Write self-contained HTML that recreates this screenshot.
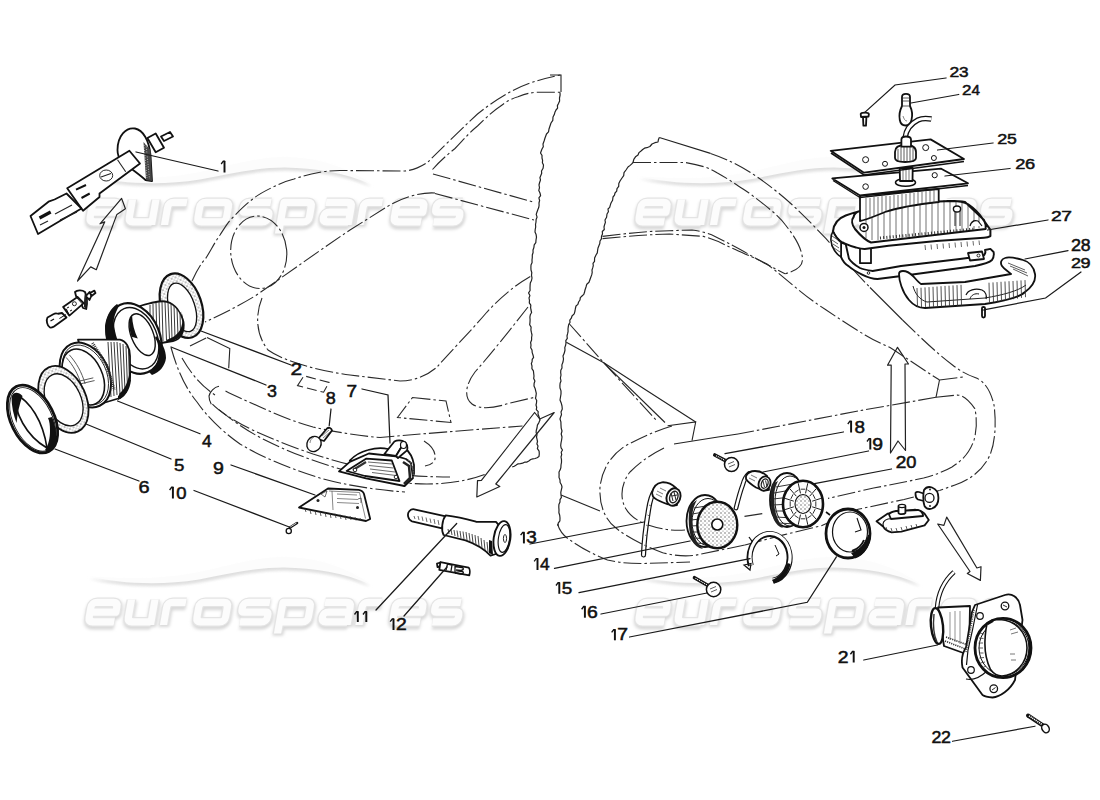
<!DOCTYPE html>
<html><head><meta charset="utf-8"><style>
html,body{margin:0;padding:0;background:#fff;width:1100px;height:800px;overflow:hidden}
svg{display:block}
.lb{font-family:"Liberation Sans",sans-serif;font-weight:normal;fill:#111;stroke:#111;stroke-width:0.5}
.ld{fill:none;stroke:#1a1a1a;stroke-width:1.25;stroke-linecap:round}
.dd{fill:none;stroke:#2a2a2a;stroke-width:1.1;stroke-dasharray:18 3 2.5 3}
.dl{fill:none;stroke:#2a2a2a;stroke-width:1.1;stroke-dasharray:10 4}
.sl{fill:none;stroke:#222;stroke-width:1.1}
.tn{fill:none;stroke:#222;stroke-width:1.2;stroke-linejoin:round}
.p{fill:#fff;stroke:#111;stroke-width:1.8;stroke-linejoin:round}
.pn{fill:none;stroke:#111;stroke-width:1.8;stroke-linejoin:round;stroke-linecap:round}
.k{fill:#111;stroke:none}
.th{fill:none;stroke:#111;stroke-width:0.9}
</style></head><body>
<svg width="1100" height="800" viewBox="0 0 1100 800">
<defs>
<filter id="wmf" x="-5%" y="-30%" width="110%" height="170%">
<feGaussianBlur in="SourceAlpha" stdDeviation="1.8" result="b"/>
<feOffset in="b" dx="1" dy="3" result="o"/>
<feFlood flood-color="#000" flood-opacity="0.24"/>
<feComposite in2="o" operator="in" result="s"/>
<feMerge><feMergeNode in="s"/><feMergeNode in="SourceGraphic"/></feMerge>
</filter>
<pattern id="stip" width="4" height="4" patternUnits="userSpaceOnUse"><rect width="4" height="4" fill="#fff"/><circle cx="1" cy="1" r="0.7" fill="#555"/><circle cx="3" cy="3" r="0.6" fill="#777"/></pattern>
</defs>
<defs>
<filter id="wmsh" x="-10%" y="-40%" width="120%" height="200%"><feGaussianBlur stdDeviation="1.6"/></filter>
<g id="wmword" fill="none" stroke-linejoin="round">
<path d="M3.0,-12.75 L28.9,-12.75 L28.9,-17.5 Q28.9,-22.5 23.9,-22.5 L8.0,-22.5 Q3.0,-22.5 3.0,-17.5 L3.0,-8.0 Q3.0,-3.0 8.0,-3.0 L28.9,-3.0" transform="translate(85.8,0)"/>
<path d="M3.0,-25.5 L3.0,-8.0 Q3.0,-3.0 8.0,-3.0 L26.5,-3.0 M26.5,-25.5 L26.5,0" transform="translate(125,0)"/>
<path d="M3.0,0 L3.0,-17.5 Q3.0,-22.5 8.0,-22.5 L21.5,-22.5" transform="translate(161.5,0)"/>
<path d="M8.0,-22.5 L26.6,-22.5 Q31.6,-22.5 31.6,-17.5 L31.6,-8.0 Q31.6,-3.0 26.6,-3.0 L8.0,-3.0 Q3.0,-3.0 3.0,-8.0 L3.0,-17.5 Q3.0,-22.5 8.0,-22.5 Z" transform="translate(193.6,0)"/>
<path d="M29.700000000000003,-22.5 L8.0,-22.5 Q3.0,-22.5 3.0,-17.5 L3.0,-15.75 Q3.0,-12.75 6.0,-12.75 L26.700000000000003,-12.75 Q29.700000000000003,-12.75 29.700000000000003,-9.75 L29.700000000000003,-8.0 Q29.700000000000003,-3.0 24.700000000000003,-3.0 L3.0,-3.0" transform="translate(237.3,0)"/>
<path d="M3.0,8.5 L3.0,-22.5 L26.0,-22.5 Q31.0,-22.5 31.0,-17.5 L31.0,-8.0 Q31.0,-3.0 26.0,-3.0 L3.0,-3.0" transform="translate(277,0)"/>
<path d="M3.0,-22.5 L24.0,-22.5 Q29.0,-22.5 29.0,-17.5 L29.0,0 M29.0,-12.75 L8.0,-12.75 Q3.0,-12.75 3.0,-7.75 L3.0,-8.0 Q3.0,-3.0 8.0,-3.0 L29.0,-3.0" transform="translate(319,0)"/>
<path d="M3.0,0 L3.0,-17.5 Q3.0,-22.5 8.0,-22.5 L21.5,-22.5" transform="translate(357,0)"/>
<path d="M3.0,-12.75 L30.5,-12.75 L30.5,-17.5 Q30.5,-22.5 25.5,-22.5 L8.0,-22.5 Q3.0,-22.5 3.0,-17.5 L3.0,-8.0 Q3.0,-3.0 8.0,-3.0 L30.5,-3.0" transform="translate(390,0)"/>
<path d="M28.0,-22.5 L8.0,-22.5 Q3.0,-22.5 3.0,-17.5 L3.0,-15.75 Q3.0,-12.75 6.0,-12.75 L25.0,-12.75 Q28.0,-12.75 28.0,-9.75 L28.0,-8.0 Q28.0,-3.0 23.0,-3.0 L3.0,-3.0" transform="translate(430,0)"/>
</g>
<g id="wmk">
<path d="M89,176 C120,179 160,180 200,172 C230,166 255,157 285,157 C315,157 345,166 371,184 C345,173 315,168 285,167.5 C255,167.5 230,174 200,179.5 C160,186 120,183.5 89,176 Z" fill="#f7f7f7" transform="translate(1,3)" filter="url(#wmsh)" opacity="0.9"/>
<path d="M89,176 C120,179 160,180 200,172 C230,166 255,157 285,157 C315,157 345,166 371,184 C345,173 315,168 285,167.5 C255,167.5 230,174 200,179.5 C160,186 120,183.5 89,176 Z" fill="#dedede" transform="translate(0.5,2.8)" filter="url(#wmsh)"/>
<path d="M89,176 C120,179 160,180 200,172 C230,166 255,157 285,157 C315,157 345,166 371,184 C345,173 315,168 285,167.5 C255,167.5 230,174 200,179.5 C160,186 120,183.5 89,176 Z" fill="#fcfcfc"/>
<g transform="translate(0,224.9) skewX(-10)">
<use href="#wmword" stroke="#d8d8d8" stroke-width="10.8" filter="url(#wmsh)" transform="translate(0.8,2.2)"/>
<use href="#wmword" stroke="#e4e4e4" stroke-width="9.8" fill="#ebebeb"/>
<use href="#wmword" stroke="#fcfcfc" stroke-width="7.2"/>
</g>
</g>
</defs>
<use href="#wmk"/>
<use href="#wmk" x="549" y="0"/>
<use href="#wmk" x="-1" y="400"/>
<use href="#wmk" x="549" y="400"/>

<!-- left car body -->
<path class="dd" d="M192,281 C197,270 202,262 206,258 C211,250 215,242 220,235 C224,229 228,222 232.5,217.75 C240,210 246,204 253.5,198.5 C259,194 265,191 271,188 C279,184 286,181 294,179 C303,176 311,174 320,172.25 C327,171 333,170.5 340,170.5 L405,171 C415,170 422,166 428,162 C440,150 455,135 477.5,114 C490,104 500,97.5 510,92 C525,84 540,79 560.7,75"/>
<path class="sl" d="M550,75 L561,75 L561,92"/>
<path class="dd" d="M432.5,169.5 C440,161 447,155 455,148.5 C465,138 470,132 477.5,126 C487,117 493,111 500,106.5 C507,101 512,98.5 518,96.75 C525,94 530,92.5 537.5,92.25 L560,92.25"/>
<path class="dd" d="M433,174 L535,202.5"/>
<path class="dd" d="M435,193.5 L534,220"/>
<path class="dd" d="M435,193 C420,192 400,198 385,208 L350,230 C320,250 290,272 255,296 C235,308 220,315 205,322"/>
<ellipse class="dd" cx="258.75" cy="252.3" rx="28" ry="36.3" transform="rotate(-5 258.75 252.3)"/>
<path class="dd" d="M262,298 C255,315 256,335 268,350 C285,362 320,371 350,375 L400,381 C415,381 428,375 437,367 C450,352 470,332 487,312 C500,298 515,285 531,276"/>
<path class="dd" d="M528,307 C510,330 490,355 475,372 C465,385 464,398 472,404 C480,410 495,408 510,403 L536,397"/>
<path class="dd" d="M412.5,397.5 L446,401 L451,422.5 L397.5,417.5 Z"/>
<path class="dl" d="M297.5,385.6 L304,375.8 L329,382.4 L323.6,392.2 Z"/>
<!-- side marker quad near headlamp -->
<path class="dd" d="M190,346 L207,337.6"/>
<path class="sl" d="M207,337.6 L229.8,348.5 L228.7,368.2"/>
<!-- bumper lines -->
<path class="sl" d="M219,386.3 C214,387 210,392 209,396 C209,399 210,402 211.3,404.2"/>
<path class="dd" d="M225.5,391 C235,396 245,400 258,406 C275,414 295,422 313,427 C335,432 360,436 380,437.5 C420,434 470,430 522.5,426"/>
<path class="dd" d="M212.4,404.2 C220,412 235,422 258,432.5 C275,440 295,448 313,454 C335,461 360,468 390,473 C410,476 430,477 450,477"/>
<path class="dd" d="M219,409.6 C232,420 245,430 265,440 C285,450 305,458 330,466 C350,472 370,477 395,482 C430,486 460,484 486,474"/>
<path class="dd" d="M171,347.5 C176,365 183,385 197,402 C206,415 220,430 240,444 C260,456 285,467 320,478 C345,485 375,490 405,492"/>
<path class="dd" d="M182,358 C190,372 200,385 215,395"/>
<!-- lower arc near part 7 -->
<path class="dd" d="M424,441 C432,446 436,452 435,459 C434,463 430,465 425,466"/>
<!-- left body torn edge -->
<path class="tn" d="M560.0,92.2 L560.1,95.2 L559.5,98.0 L559.6,100.9 L558.5,103.5 L557.4,105.6 L557.6,108.1 L556.0,110.0 L554.9,112.3 L554.2,114.8 L553.0,117.0 L552.8,120.3 L551.0,123.0 L550.0,126.0 L549.0,129.0 L548.5,131.9 L546.5,134.0 L545.0,138.0 L544.1,141.0 L543.0,144.0 L543.3,146.7 L542.0,149.0 L540.5,153.0 L542.0,155.3 L542.0,158.0 L542.6,160.3 L542.4,162.8 L543.5,165.0 L543.1,168.2 L541.5,171.0 L541.7,173.3 L540.8,175.5 L539.9,177.7 L540.5,180.0 L539.6,182.5 L539.0,185.0 L539.5,187.6 L538.8,190.4 L540.0,193.0 L540.6,195.6 L538.9,197.9 L539.6,200.5 L539.0,203.0 L539.1,205.4 L538.7,207.6 L537.8,209.8 L537.0,212.0 L536.2,214.4 L537.1,217.1 L536.1,219.5 L536.0,222.0 L535.5,224.5 L535.7,227.0 L535.2,229.5 L535.0,232.0 L536.1,234.6 L536.5,237.2 L536.0,240.0 L535.8,242.7 L534.2,244.9 L533.9,247.5 L533.0,250.0 L533.1,252.5 L532.3,255.0 L532.3,257.5 L532.0,260.0 L532.1,262.5 L531.0,264.9 L530.9,267.5 L531.0,270.0 L531.8,272.6 L531.5,275.3 L532.0,278.0 L531.5,280.5 L530.3,282.9 L530.1,285.4 L530.0,288.0 L530.1,290.5 L528.6,292.9 L529.9,295.6 L529.0,298.0 L529.5,300.4 L529.3,302.9 L530.8,305.1 L530.6,307.6 L531.0,310.0 L531.6,312.5 L530.3,314.8 L529.9,317.2 L530.1,319.6 L530.0,322.0 L529.7,324.7 L531.1,327.1 L530.9,329.9 L531.4,332.4 L532.0,335.0 L531.6,337.5 L531.6,340.0 L530.6,342.4 L531.0,345.0 L530.7,347.7 L532.0,350.0 L532.2,352.6 L533.0,355.0 L533.6,357.3 L532.2,359.4 L532.1,361.6 L531.3,363.7 L532.0,366.0 L531.9,368.6 L533.4,370.9 L533.7,373.5 L534.0,376.0 L533.7,378.5 L534.9,381.0 L534.1,383.5 L534.0,386.0 L535.1,388.4 L535.7,390.9 L536.3,393.3 L536.0,396.0 L535.5,398.2 L536.7,400.5 L536.5,402.8 L536.0,405.0 L536.7,407.2 L536.3,409.6 L538.2,411.6 L538.0,414.0 L539.1,417.0 L540.0,420.0 L538.9,422.6 L537.4,425.1 L537.0,428.0 L536.3,430.2 L536.1,432.5 L537.0,434.8 L536.5,437.0 L537.0,439.2 L537.5,441.5 L536.9,443.9 L538.0,446.0 L537.4,448.7 L539.1,451.1 L539.3,453.7 L539.0,456.4 L537.1,457.7 L535.1,458.5 L532.8,458.9 L530.7,459.5 L528.8,460.9 L527.0,462.1 L524.6,462.2 L522.6,463.1 L520.4,463.6 L518.1,463.8 L516.2,465.1 L514.3,466.2 L512.2,467.0"/>
<!-- arrow down-left -->
<path class="tn" d="M534.6,412.5 L539.8,419 L554.2,412.5 L495.8,484 L499.8,486.5 L476.8,497 L477.5,480.7 L481.4,480.3 Z"/>
<!-- right car body -->
<path class="tn" d="M659.3,137.5 L658.4,139.7 L658.0,142.0 L654.9,142.7 L652.0,144.0 L649.9,146.5 L646.8,147.7 L644.5,148.2 L642.7,149.5 L641.0,151.0 L639.0,152.6 L638.0,155.0 L635.5,156.8 L633.8,159.4 L633.0,162.5 L631.5,164.1 L629.8,165.6 L628.0,167.0 L626.0,170.0 L624.0,172.7 L623.7,175.6 L622.0,178.0 L620.0,181.0 L618.8,183.4 L618.7,186.4 L617.0,188.6 L616.7,191.1 L615.0,193.0 L614.5,195.2 L613.0,197.0 L612.6,200.2 L611.0,203.0 L610.3,205.1 L609.7,207.4 L608.0,209.0 L608.4,211.7 L607.0,214.0 L606.6,217.2 L605.0,220.0 L605.4,222.4 L604.6,224.7 L604.0,227.0 L604.3,229.5 L602.3,231.5 L602.5,234.0 L601.5,236.3 L601.4,238.9 L600.0,241.0 L599.8,243.5 L598.9,245.7 L598.0,248.0 L597.6,250.4 L597.3,252.9 L596.0,255.0 L594.6,258.1 L594.5,261.4 L593.0,263.3 L593.3,265.7 L592.7,267.9 L592.0,270.0 L592.2,272.5 L591.7,274.9 L590.8,277.2 L590.0,279.5 L589.0,282.2 L586.8,284.2 L586.0,287.0 L585.0,290.0 L584.5,292.3 L583.8,294.4 L582.0,296.0 L580.3,297.6 L580.0,300.0 L578.6,302.0 L577.9,304.4 L576.0,306.0 L575.4,308.5 L575.0,311.0 L574.2,313.9 L572.0,316.0 L571.3,318.2 L569.8,320.1 L570.0,322.5 L568.7,324.5 L568.3,326.7 L568.0,329.0 L568.1,331.4 L567.6,333.7 L567.0,336.0 L567.3,338.4 L565.8,340.6 L566.0,343.0 L565.6,345.3 L564.8,347.6 L565.0,350.0 L564.3,353.1 L563.0,356.0 L563.5,359.0 L563.0,362.0 L561.9,364.9 L562.0,368.0 L560.8,370.2 L560.7,372.6 L561.0,375.0 L560.4,378.0 L561.0,381.0 L560.1,383.3 L559.9,385.6 L560.0,388.0 L561.0,390.9 L561.0,394.0 L560.5,397.0 L560.0,400.0 L561.2,402.9 L562.0,406.0 L562.3,409.1 L561.0,412.0 L561.5,414.5 L560.7,416.7 L560.0,419.0 L560.9,421.9 L561.0,425.0 L561.2,428.1 L562.0,431.0 L561.2,434.0 L562.0,437.0 L561.6,440.0 L561.0,443.0 L560.7,445.5 L561.1,447.9 L562.5,450.0 L561.2,452.2 L561.7,454.7 L561.0,457.0 L561.5,459.7 L561.5,462.3 L561.0,465.0 L560.9,467.5 L560.2,469.8 L559.0,472.0 L559.1,474.7 L559.0,477.4 L560.0,480.0 L560.1,482.5 L561.4,484.7 L562.0,487.0 L561.4,489.6 L560.8,492.3 L561.0,495.0 L561.4,497.4 L560.0,499.6 L560.0,502.0 L558.9,504.6 L558.8,507.3 L559.0,510.0 L558.9,512.7 L559.7,515.3 L560.0,518.0 L559.9,520.8 L558.2,523.2 L558.0,526.0"/>
<path class="sl" d="M561,495 L600,511"/>
<path class="sl" d="M659.3,137.5 L710.5,153.4"/>
<path class="dd" d="M710.5,153.4 C730,160 750,170 776,191 C795,206 810,222 826,238.6 C840,255 855,272 870,287.5"/>
<path class="sl" d="M870,287.5 L902.5,320"/>
<path class="dd" d="M902.5,320 C915,332 935,352 952.5,365 C960,371 968,375 975,377.5 C985,381 991,392 994,405 C996,420 996,440 990,455 C983,470 970,480 955,485 L939.5,490.5"/>
<path class="dd" d="M633,162.5 L685.5,162.5 C700,165 710,168 717,172.7 C730,180 740,187 749,193 C765,205 778,215 785.5,225 C795,237 801,247 802.5,258 C803,266 798,270 785,273.75"/>
<path class="dd" d="M602.5,236.4 C630,233 650,231 669.5,230.7 L692,230 C700,231 708,233 715,236.4 C728,243 740,249 749,254.5 C760,261 772,267 785,273.75"/>
<path class="dd" d="M602.5,238.6 C630,236 650,234.5 669.5,234 L703.6,236.4 C712,239 720,242 726.4,245.5 C740,252 755,258 767,264 C785,278 800,292 815,302.5 C832,314 850,326 865,335 C875,341 882,344 890,347.5 C905,357 922,369 939.5,380"/>
<path class="dd" d="M939.5,380 L964.5,376.8"/>
<path class="sl" d="M939.5,380 L936,397.3"/>
<path class="dd" d="M936,397.3 L957.7,395 C965,396 970,402 974.8,408.6 C977,418 977,430 974,440 C970,452 963,460 952,467 C945,471 935,475 923.6,478 C905,482 890,485 873.6,488 L828,498.4"/>
<path class="dd" d="M936,397.3 L858,411"/>
<path class="dd" d="M858,411 L738,434"/>
<path class="sl" d="M738,434 L718,437 L674,444"/>
<!-- block near torn edge -->
<path class="sl" d="M667.6,425.7 L695.7,422 L692,440.7"/>
<path class="dd" d="M569,323.5 L603.8,362.8 L633.8,395.7 L657.5,421.5"/>
<path class="sl" d="M566.3,342.2 L603.8,362.8 L643.2,388.2 L695.7,422"/>
<path class="sl" d="M603.8,362.8 L665,422.5"/>
<!-- tail light arcs -->
<path class="dd" d="M939.5,490.5 L904,499.5 L858,509.3 L822,525.6 L784.5,534.6 L745,545"/>
<path class="dd" d="M557.5,524 C560,532 565,537 570,540 C580,547 592,554 607.5,560 C620,563 630,563.5 642,563.5 L690,562"/>
<path class="dd" d="M672,426 C655,431 640,438 625,446 C610,456 602,470 600,487 C599,505 605,520 616,528 C628,538 645,546 662.7,552.7 C675,556 688,557 699,554.5 L745,545"/>
<path class="dd" d="M664,448 C650,455 640,462 630,472 C622,482 620,495 624,505 C628,515 637,521 648,525 C660,529 672,531 685,530"/>
<path class="dd" d="M744.5,516.4 L762.7,513.6"/>
<!-- part 1: H1 bulb with connector -->
<path class="tn" d="M121.6,198.4 L125.4,208.8 L116.9,214.4 L96.3,269.7 L90.7,266.9 L77.5,281 L104.7,221.9 L100,223.8 Z" fill="#fff"/>
<g>
<path class="p" d="M147.4,138 L155.7,133.5 L164,147.7 L155.7,152.2 Z"/>
<path class="p" d="M161,136.5 L170,132 L173,136.5 L164,141 Z" stroke-width="1.4"/>
<path class="p" d="M133,170 C124,165 117.5,160 117.5,150 C117.5,136 126,127 135,128.5 C143,130 149,140 150.5,155 L152,181 L145.5,180 C141,176 137,173 133,170 Z"/>
<path d="M143.5,142 L150.5,150 L152,181 L146,180 Z" fill="#444"/>
<path d="M144,145 L147,178 M146,144 L149.5,179" stroke="#fff" stroke-width="0.6" stroke-dasharray="1 1.5"/>
<path class="p" d="M67.2,188.2 L129.4,150.7 L140,163.5 L99.5,193.5 L99.5,197 L83,210.7 Z"/>
<path class="sl" d="M117.5,159.7 L125.7,171.7"/>
<ellipse class="th" cx="106.2" cy="175.5" rx="6.5" ry="5.5" stroke-width="1.2" fill="#fff"/>
<path class="sl" d="M101,177 L111,173.5"/>
<path d="M76,189.7 L86,185 M81.5,198 L89.7,193.5" stroke="#111" stroke-width="2"/>
<path class="p" d="M30.5,216 L48.5,201.7 L54.5,199.5 L66.5,193.5 L81.5,208.5 L62,219.7 L38,234 Z" stroke-width="1.6"/>
<path class="sl" d="M55,214 L72,205 M60,220 L77,212"/>
<path d="M39.5,218 L50.7,212" stroke="#111" stroke-width="3.2"/>
<path class="sl" d="M40,225 L48,221"/>
</g>
<!-- small H1 bulb -->
<path class="p" d="M47.5,317.5 C46,320 47,326 50,327.5 C51.5,328 53,327 54.4,326.3 L66.5,317.5 L62,313 L58.1,313.75 C56,313 54.5,313.5 53.75,314 Z" stroke-width="1.3"/>
<path d="M50.5,321 L54,319" stroke="#111" stroke-width="1.3"/>
<path d="M59.4,318.5 L66,314.5" stroke="#111" stroke-width="1"/>
<path class="p" d="M75,292 C77,290 82,289.5 85,292 C87,296 87.5,303 86.25,309 L83,308 C81,303 79,299 76,296 Z" stroke-width="1.3"/>
<path d="M85,293 C86.5,298 87,304 86.25,309 L84,307 C84,302 84,297 85,293 Z" fill="#222"/>
<path class="p" d="M63.1,306.9 L77.5,296.9 L83.75,303.1 L69.4,315.6 Z" stroke-width="1.3"/>
<path d="M66.25,308.75 L69.4,315.6 M76.5,297.5 L82.5,304" stroke="#111" stroke-width="1"/>
<path d="M67,308 L69,307 M70,311 L72,310" stroke="#111" stroke-width="1"/>
<circle cx="74.4" cy="303.75" r="2" fill="none" stroke="#111" stroke-width="0.9"/>
<path class="p" d="M86,296 L89.5,292 L92,294.5 L89.5,300 Z" stroke-width="1.1"/>
<path class="p" d="M90,293 L94.4,290.6 L95.5,293 L91.5,296 Z" stroke-width="1.1"/>
<!-- part 2 gasket (top right) -->
<g transform="rotate(-19 181.5 305.7)">
<ellipse cx="181.5" cy="305.7" rx="20" ry="33.4" fill="url(#stip)" stroke="#111" stroke-width="2.2"/>
<ellipse cx="181.5" cy="307.5" rx="12.7" ry="25.3" fill="#fff" stroke="#111" stroke-width="1.3"/>
</g>
<!-- part 3 bowl: cone -->
<path class="p" d="M140,306 C150,303 160,300 167,301.8 C175,304 181,312 183.5,322 C185,332 180,340 173,341 L161,343 Z"/>
<path d="M150,305 L150,338 M153,304 L153.5,339 M156,303 L157,340 M159,302 L160,341 M162,302 L163,341 M165,302 L166.5,340 M168,302.5 L169.5,340 M171,303 L172,339 M174,305 L175,338 M177,308 L178,336 M180,312 L180.5,333" stroke="#222" stroke-width="0.9"/><path d="M166,340 C172,338 178,335 181,328 C183,322 183,316 181,311 C184,318 185,328 182,334 C179,339 174,341 167,342 Z" fill="#111"/>
<g transform="rotate(-22 134 338.5)">
<ellipse cx="134" cy="338.5" rx="26" ry="36.5" fill="#fff" stroke="#111" stroke-width="2.2"/>
<ellipse cx="136" cy="339" rx="21" ry="32" fill="none" stroke="#111" stroke-width="1.4"/>
<path d="M113,338 C112,320 118,308 126,304 C121,314 118,326 118,338 Z" fill="#111"/>
<ellipse cx="143" cy="338" rx="11" ry="22" fill="#fff" stroke="#111" stroke-width="1.4"/>
<path d="M132.5,336 C133,325 137,318 141,316 C138,324 137,332 137.5,340 Z" fill="#111"/>
</g>
<path d="M105,326 C106,317 110,309 117,304 L119,306 C115,313 112.5,321 112.5,331 C112.5,337 113.5,342 115,347 L110.5,346 C107,340 105,334 105,326 Z" fill="#111"/>
<path d="M156,336 C162,342 166,350 166,358 C165,366 160,372 152,375 L149,372 C155,368 158,362 158.5,355 C159,348 158,342 155,338 Z" fill="#111"/>
<!-- part 4 sealed beam: cone -->
<path class="p" d="M78,339.7 L120,339.7 C126,341 130,348 130,356 L130,378 C128,390 124,396 120,398 L100,404 Z"/>
<path d="M108,342 L111,397 M111,342 L114,396 M114,342 L117,395 M117,342 L120,394 M120,343 L122.5,393 M123,344 L125,391 M126,346 L127.5,388 M128.5,350 L129.5,383" stroke="#222" stroke-width="0.9"/><path d="M119,394 C124,390 128,383 129.5,372 L131,372 C131,384 127,393 120,398 Z" fill="#111"/>
<path d="M118,396 C124,392 128,385 129,378 L131,380 C130,390 125,397 118,400 Z" fill="#111"/>
<g transform="rotate(-25 83.3 377)">
<ellipse cx="86" cy="376" rx="23.5" ry="34" fill="#fff" stroke="#111" stroke-width="2"/>
<ellipse cx="86" cy="376" rx="21" ry="31.5" fill="none" stroke="#111" stroke-width="0.8"/>
<path d="M106,350 L109.5,376 L106,402" stroke="#333" stroke-width="3" fill="none" stroke-dasharray="1 1"/>
<ellipse cx="83.3" cy="377" rx="19" ry="29.5" fill="#fff" stroke="#111" stroke-width="1.6"/>
<path d="M76,352 C79,362 80,372 78,384 M80,351 C83,361 84,372 82,384 M73,378 L92,382 M73,381 L92,385" stroke="#444" stroke-width="0.8" fill="none"/>
</g>
<!-- part 5 gasket -->
<g transform="rotate(-24.6 63.4 399.4)">
<ellipse cx="63.4" cy="399.4" rx="22.5" ry="35.2" fill="url(#stip)" stroke="#111" stroke-width="1.8"/>
<ellipse cx="63.4" cy="399.9" rx="17.3" ry="27.5" fill="#fff" stroke="#111" stroke-width="1.3"/>
</g>
<!-- part 6 trim ring -->
<g transform="rotate(-26.6 32.5 419)">
<ellipse cx="32.5" cy="419" rx="21.5" ry="36.3" fill="#fff" stroke="#111" stroke-width="2.8"/>
<ellipse cx="32.5" cy="419.5" rx="19.3" ry="34.2" fill="none" stroke="#111" stroke-width="0.9"/>
</g>
<path d="M52,417 C55.5,425 57,434 56,442 C55,447 52,450 48,452 L45,450 C48.5,445 50,438 50,431 C50,425 49.5,421 48,418 Z" fill="#111"/>
<path d="M11.5,397 C13,392 18,391 22.5,396 C19.5,404 17.5,413 16.5,423 C13.5,415 11.5,406 11.5,397 Z" fill="#111"/>
<path d="M15,394 C14,412 26,436 47,448 M15,394 C30,401 43,421 47,448" stroke="#111" stroke-width="1.6" fill="none"/>
<!-- part 8 bulb -->
<path class="p" d="M318,439 L327,428.5 C329,427 331.5,428 332,430.5 L324,441 Z" stroke-width="1.3"/>
<path d="M322,436 L329,430 M323,438 L330,432" stroke="#333" stroke-width="0.6"/>
<ellipse cx="314" cy="444" rx="7" ry="7.8" transform="rotate(30 314 444)" fill="#fff" stroke="#111" stroke-width="1.4"/>
<path d="M310,443 C310,440 312,438 314,437" stroke="#555" stroke-width="0.7" fill="none"/>
<!-- part 7 lamp housing -->
<path class="p" d="M349.8,460.5 C355,455 360,452 368,450 C375,448 382,447.5 388,449 L404,447 C410,452 413,458 414,465 L414,474 L404.5,486 Z" stroke-width="1.4"/>
<path class="p" d="M339,471.4 L349.8,461.8 L368.9,453.5 L398,456.7 L406,459 L411,463 L413,478 L404.5,486 L366,478.4 Z" stroke-width="3.2"/>
<path class="p" d="M346.6,471 L366.4,458.6 L391.8,460.5 L399.5,481 L365,476 Z" stroke-width="1.3"/>
<path d="M368,462 L392,464 M369,465.5 L393.5,468 M370,469 L395,472 M372,472.5 L396,475.5" stroke="#444" stroke-width="0.8"/>
<path d="M353,470 L366,462" stroke="#333" stroke-width="2.2"/>
<circle cx="355" cy="470" r="1.8" fill="#fff" stroke="#111" stroke-width="0.9"/>
<circle cx="396" cy="477" r="1.8" fill="#fff" stroke="#111" stroke-width="0.9"/>
<path d="M403,462 L409,466 L410,478 L404,484" stroke="#222" stroke-width="2.5" fill="none"/>
<path d="M408,460 C412,464 414,470 413,478" stroke="#555" stroke-width="1.5" fill="none" stroke-dasharray="1.5 1"/>
<path class="p" d="M384.2,454.2 L394.4,441.5 C397,440 402,440 404.5,442 L396,456 Z" stroke-width="1.6"/>
<path class="p" d="M404.5,442 C407,443 408,447 407,450.4 L398,458 L396,456 Z" stroke-width="1.4"/>
<ellipse cx="403.5" cy="445" rx="3" ry="3.5" fill="#fff" stroke="#111" stroke-width="1.2"/>
<!-- part 9 lens -->
<path class="p" d="M299,507.5 L328,488.5 L358.7,489.8 C362,490.5 363.5,492 364,494 L370.2,519 L366,521 Z" stroke-width="1.9"/>
<path d="M329,491 L359.5,492.5 L365.5,518.5 M332,491 L333,510 M337,494 L357,495 M337,498.5 L358,499.5 M337,502.5 L359,503.5" stroke="#555" stroke-width="0.7" fill="none"/>
<path d="M305,509 L306,512 M310,510 L311,514 M315,510.5 L316,515 M320,511.5 L321,516 M325,512 L326,517 M330,513 L331,518 M335,513.5 L336,518 M340,514.5 L341,519 M345,515.5 L346,520 M350,516 L351,520 M355,517 L356,520.5 M360,518 L361,521" stroke="#333" stroke-width="0.8"/>
<circle cx="318" cy="500.5" r="1.5" fill="#222"/>
<circle cx="357.5" cy="507.5" r="1.5" fill="#222"/>
<path d="M321,494 L327,491 L325,497 Z M358,499 L361,498 L361,503" stroke="#333" stroke-width="0.7" fill="none"/>
<!-- part 10 pin -->
<path d="M290,527.5 L297,523" stroke="#111" stroke-width="2.6" stroke-linecap="round"/>
<path d="M290.2,527 L296.5,523" stroke="#fff" stroke-width="0.8"/>
<circle cx="288.75" cy="531" r="2.6" fill="#fff" stroke="#111" stroke-width="1.3"/>
<!-- part 11 -->
<path class="p" d="M414.2,509.3 L445.8,516.4 L442,528.4 L412,521.3 C408,520 407,514 409,511.5 C410.5,509.5 412.5,509 414.2,509.3 Z" stroke-width="1.9"/>
<path d="M414,516 L415,519 M418,516 L419,520 M422,516.5 L423,521 M426,517.5 L427,522 M430,518.5 L431,523 M434,519 L435,524 M438,520 L439,525" stroke="#444" stroke-width="0.8"/>
<path class="p" d="M445.8,515.3 C460,517 470,520 476.4,521.8 L496,521.8 L503,530 L496,554 L490.5,555.6 C485,550 476,544 465.5,540.4 L443.6,535 C441,530 442,520 445.8,515.3 Z" stroke-width="1.9"/>
<path d="M448,529 L449,534 M451,529.5 L452,535 M454,530 L455,536 M457,530.5 L458,537 M460,531 L461,538 M463,531.5 L464,539 M466,532 L467,540 M469,533 L470,541 M472,534 L473,543 M475,535 L476,545 M478,536 L479,546 M481,538 L482,548 M484,540 L485,550 M487,542 L488,552" stroke="#333" stroke-width="0.9"/>
<path d="M489,540 L492,541 L493,555 L489,553 Z" fill="#111"/>
<ellipse cx="502" cy="538.5" rx="8.3" ry="17.5" transform="rotate(8 502 538.5)" fill="#fff" stroke="#111" stroke-width="1.9"/>
<ellipse cx="504" cy="538.5" rx="5.6" ry="14" transform="rotate(8 504 538.5)" fill="none" stroke="#111" stroke-width="1.1"/>
<ellipse cx="505" cy="538.5" rx="1.6" ry="4" fill="none" stroke="#111" stroke-width="0.9"/>
<!-- part 12 -->
<path class="p" d="M437,563.5 L440.5,562.5 L441,566.5 L437.5,567 Z" stroke-width="1.1"/>
<path class="p" d="M440.4,562.2 L468.7,567.6 C470,569 470,573 469.3,575.3 L439.3,569.8 Z" stroke-width="1.5"/>
<path d="M446,570 L447.5,564 L452,565 L451,571 M455,566 L455,573 M455,566.5 L462,567.5 C464,568 464,570 461,570.5 L456,570 M456,570.5 L462,571.5 C464,572 464,574 461,574 L455,573" stroke="#111" stroke-width="1.3" fill="none"/>
<!-- part 23 screw -->
<path class="p" d="M860.7,114 C861,112.5 868,112 868.9,114 L868.5,116.5 L861,117 Z" stroke-width="1.2"/>
<path class="p" d="M863,117 L866.4,117 L866,125.6 L863.4,125.6 Z" stroke-width="1.1"/>
<!-- part 24 bulb -->
<path class="p" d="M902,106 L902,97 C902,94.5 904,93.8 906,93.8 C908,93.8 910,94.5 910,97 L910,106 C912,110 912.5,116 911.5,120 C910.5,124 908,125.5 905.5,125.5 C903,125.5 900.5,124 899.8,120 C899,116 900,110 902,106 Z" stroke-width="1.4"/>
<path d="M902,106 L910,106 M903,98 L909,98 M903,101 L909,101" stroke="#333" stroke-width="0.8"/>
<path d="M903,116 C904,119 905,121 907,121" stroke="#555" stroke-width="0.7" fill="none"/>
<!-- part 27 housing (behind plates) -->
<!-- lower U frame -->
<path d="M841,242.5 L841,256.8 C843,262 845,264 848.9,266.4 C853,270 857,272 861.6,274.3 C867,277 872,279 877.5,279 L901.4,276 L975,266 C985,264 990,262 992,260 C994,257 994,254 993.6,252 L990.4,248.9 L985,250 C986,253 985,255 982.5,256 L960,259 L901,266 L872.7,271 C866,270 862,269 860,268 C855,265 851,262 848.9,258.4 L845.7,244 Z" fill="#fff" stroke="#111" stroke-width="1.9" stroke-linejoin="round"/>
<path d="M925,245 L925.5,250 M931,244.5 L931.5,249.5 M937,244 L937.5,249 M943,243.5 L943.5,248.5 M949,243 L949.5,248 M955,242.5 L955.5,247.5 M961,242 L961.5,247 M967,241.5 L967.5,246.5 M973,241 L973.5,245.5 M979,240.5 L979.5,245" stroke="#444" stroke-width="0.8"/>
<circle cx="868.5" cy="273" r="1.3" fill="none" stroke="#111" stroke-width="0.9"/>
<path class="p" d="M860,247.3 L871,247.3 L871,263.2 L860,263.2 Z" stroke-width="1.3"/>
<path class="p" d="M968,253 L982,251.5 L984,259 L970,260.5 Z" stroke-width="1.3"/>
<circle cx="978.5" cy="255.5" r="1.5" fill="#fff" stroke="#111" stroke-width="0.9"/>
<!-- interior back wall -->
<path d="M853.6,217 L857,199.5 L904,198 L952,199 L965,202 L984,218 L985.7,229 L871,242.5 Z" fill="#fff" stroke="none"/>
<path d="M866,203 L866,238 M872,202 L872,240 M878,202 L878,240 M884,201 L884,239 M890,201 L890,239 M896,200 L896,238 M902,200 L902,238 M908,200 L908,237 M914,200 L914,237 M920,200 L920,236 M926,200 L926,235 M932,200 L932,234 M938,200 L938,234 M944,200 L944,233 M950,201 L950,233 M956,202 L956,232 M962,203 L962,231 M968,206 L968,230 M974,210 L974,229 M979,214 L979,228" stroke="#444" stroke-width="0.75"/>
<path d="M880,238 L975,229" stroke="#333" stroke-width="3" stroke-dasharray="1 2.2"/>
<!-- rim ring -->
<path fill-rule="evenodd" d="M833,231.4 C834,222 839,218 845.7,215.5 C855,212 865,210 872.7,209 L904.5,202.7 L952.3,201 C958,201 964,202 968.2,204.3 C975,209 979,213 982.5,218.6 L990.4,229.8 L990.4,236.1 C989,237 987,237.7 984,237.7 L936.4,241 L888.6,245.7 L864.8,248.9 C861,249 858,248 855.2,247.3 C850,246 846,244 842.5,242.5 C838,240 835,236 833,231.4 Z M853.6,217 C851,220 852,225 855,229 C860,235 865,240 871,242.5 L985.7,229 C986,226 985,222 984,220 L965,202 C960,201 955,201 950,201 L904,203 L860,211 C856,212 854,214 853.6,217 Z" fill="#fff" stroke="#111" stroke-width="2" stroke-linejoin="round"/>
<circle cx="864" cy="227.4" r="4" fill="#fff" stroke="#111" stroke-width="1.5"/>
<circle cx="864" cy="227.4" r="1.5" fill="#111"/>
<ellipse cx="957" cy="209" rx="3.6" ry="3" fill="#fff" stroke="#111" stroke-width="1.4"/>
<path d="M955,211 L955,226 M960,211 L960,226" stroke="#222" stroke-width="1"/>
<path d="M970,226 C971,222 974,220 978,221 L982,226" stroke="#111" stroke-width="1.2" fill="#fff"/>
<!-- left ribbed end -->
<path d="M833,231.4 C830,236 830,244 834.5,250.5 C837,254 839,256 841,256.8 L841,242.5 C838,240 835,236 833,231.4 Z" fill="#fff" stroke="#111" stroke-width="1.6"/>
<path d="M832,236 L838,240 M832,240 L838,244 M833,244 L839,248 M834,248 L840,252" stroke="#333" stroke-width="0.8"/>
<!-- part 26 lower plate + bracket -->
<path class="p" d="M860,195.5 L938.7,189 L938.7,202 C920,204 900,207 885,212 C875,216 866,220 860,221 Z" stroke-width="1.6"/>
<path d="M866,198 L866,219 M870,198 L870,218 M874,197 L874,216 M878,197 L878,214 M882,196 L882,213 M886,196 L886,211 M890,196 L890,210 M894,195 L894,209 M898,195 L898,208 M902,194 L902,207 M906,194 L906,206 M910,193 L910,205 M914,193 L914,205 M918,192 L918,204 M922,192 L922,204 M926,191 L926,203 M930,191 L930,203 M934,190 L934,203" stroke="#333" stroke-width="0.7"/>
<path class="p" d="M832.3,178.4 L941.2,168.7 L968,183.3 L860,195.5 Z" stroke-width="1.9"/>
<path d="M833,180.5 L860,197.5 L968,185.5" stroke="#111" stroke-width="1.3" fill="none"/>
<circle cx="865.6" cy="186.6" r="2.8" fill="#fff" stroke="#111" stroke-width="1"/>
<circle cx="934.7" cy="175.2" r="2.6" fill="#fff" stroke="#111" stroke-width="1"/>
<ellipse cx="905.5" cy="182.5" rx="10" ry="3.8" fill="#fff" stroke="#111" stroke-width="1.5"/>
<path class="p" d="M899.7,168 L912.7,168 L912.5,181 L900,181 Z" stroke-width="1.4"/>
<path d="M903,169 L903,180 M906,169 L906,180 M909,169 L909,180" stroke="#444" stroke-width="0.7"/>
<!-- part 25 top plate -->
<path class="p" d="M830.7,150.8 L930.6,139.4 L964,159 L864,172.7 Z" stroke-width="2"/>
<path d="M831,153 L864,175 L964,161.5" stroke="#111" stroke-width="1.6" fill="none"/>
<circle cx="865.6" cy="159.7" r="3" fill="#fff" stroke="#111" stroke-width="1"/>
<circle cx="885" cy="163.8" r="2.5" fill="#fff" stroke="#111" stroke-width="1"/>
<circle cx="925.7" cy="147.6" r="3" fill="#fff" stroke="#111" stroke-width="1"/>
<circle cx="933.9" cy="158" r="2.5" fill="#fff" stroke="#111" stroke-width="1"/>
<!-- socket on top plate -->
<path d="M905,138 C906,130 910,124 918,120 C922,118 926,118 931.4,119" stroke="#111" stroke-width="5.5" fill="none"/>
<path d="M905,138 C906,130 910,124 918,120 C922,118 926,118 931.4,119" stroke="#fff" stroke-width="3" fill="none"/>
<path class="p" d="M895,152 C895,147 899,145 905,145 C911,145 916,147 916,152 L916,158 C916,161 911,162 905,162 C899,162 895,161 895,158 Z" stroke-width="1.6"/>
<path d="M898,149 L898,160 M901,147 L901,161 M904,147 L904,162 M907,147 L907,162 M910,147 L910,161 M913,148 L913,160" stroke="#333" stroke-width="0.8"/>
<path class="p" d="M901.4,146.7 L901.4,139.5 C901.4,137.5 903,136.5 906,136.5 C909,136.5 911,137.5 911,139.5 L911,146.7 Z" stroke-width="1.4"/>
<!-- part 28 lens -->
<path class="p" d="M899,274 C899,280 902,292 909,300 C914,306 920,308 925,308 L985,304 C1005,301 1020,297 1025,292 C1033,286 1036,280 1035,274 C1034,268 1030,262 1023,260 C1016,258 1008,257 1005,258 C1001,259 1000,263 1002,266 C1004,269 1008,271 1011,274 L965,282 L921,284 C918,282 915,278 913,276 C910,273 906,271 903,271 C900,271 899,272 899,274 Z" stroke-width="2.2"/>
<path d="M913,286 C915,294 920,300 927,302 L985,298 C1003,295 1018,291 1026,285" stroke="#222" stroke-width="1" fill="none"/>
<path d="M917,288.0 L917.5,307.0 M921,287.7 L921.5,307.0 M925,287.4 L925.5,306.9 M929,287.1 L929.5,306.9 M933,286.8 L933.5,306.8 M937,286.5 L937.5,306.7 M941,286.2 L941.5,306.5 M945,285.9 L945.5,306.3 M949,285.7 L949.5,306.1 M953,285.4 L953.5,305.9 M957,285.1 L957.5,305.7 M961,284.8 L961.5,305.4 M989,282.7 L989.5,302.6 M993,282.4 L993.5,302.1 M997,282.1 L997.5,301.6 M1001,281.8 L1001.5,301.1 M1005,281.5 L1005.5,300.5 M1009,281.2 L1009.5,299.9 M1013,281.0 L1013.5,299.2 M1017,280.7 L1017.5,298.6 M1021,280.4 L1021.5,297.9 M1025,280.1 L1025.5,297.2" stroke="#333" stroke-width="0.85"/>
<path d="M966,295 C968,290 975,288 982,290 C986,292 987,296 986,299" stroke="#111" stroke-width="1.2" fill="none"/>
<path d="M970,299 C971,295 975,293 979,294" stroke="#111" stroke-width="1" fill="none"/>
<path d="M1008,263 L1025,270 M1010,266 L1027,273 M1013,269 L1028,276" stroke="#333" stroke-width="0.8"/>
<!-- part 29 pin -->
<path class="p" d="M982,308 C982,306.5 985,306.5 985,308 L985,316 C985,318 982,318 982,316 Z" stroke-width="1.2"/>
<path d="M981.5,310 L985.5,310" stroke="#111" stroke-width="1"/>
<!-- part 13 cable -->
<path d="M643.5,555 C644,540 646,525 648.5,510 C650,500 652,494 655,490" stroke="#111" stroke-width="5.2" fill="none" stroke-linecap="round"/>
<path d="M643.5,555 C644,540 646,525 648.5,510 C650,500 652,494 655,490" stroke="#fff" stroke-width="2.8" fill="none" stroke-linecap="round"/>
<path d="M644,545 L646,546 M645,535 L647,536 M646,525 L648,526 M647.5,515 L649.5,516 M649,505 L651,506" stroke="#555" stroke-width="0.8"/>
<path class="p" d="M652,493 C653,487 657,483 662,482.3 C667,482 672,484 676,488 L677,505 C672,506 667,504.5 663,502.5 C659,501 655,499 653,496.5 Z" stroke-width="1.7"/>
<path d="M656,494 L662,497 M657,491 L663,494 M660,488 L666,491" stroke="#555" stroke-width="0.8"/>
<ellipse cx="673.5" cy="497" rx="6.8" ry="9" transform="rotate(20 673.5 497)" fill="#fff" stroke="#111" stroke-width="1.9"/>
<ellipse cx="673.8" cy="497" rx="4" ry="6" transform="rotate(20 673.8 497)" fill="#fff" stroke="#222" stroke-width="1.4"/>
<path d="M671,493 L673,501 M674,492 L676,500 M672,496 L677,495" stroke="#222" stroke-width="1"/>
<!-- part 14 lamp -->
<g>
<ellipse cx="705" cy="521" rx="18.5" ry="26" fill="#fff" stroke="#111" stroke-width="1.8"/>
<ellipse cx="708" cy="522" rx="16" ry="23.5" fill="#fff" stroke="#111" stroke-width="1"/>
<path d="M694,508 L712,505 M692,514 L710,511 M691,520 L709,518 M691,526 L709,525 M692,532 L710,532 M694,538 L712,539 M697,543 L714,545" stroke="#333" stroke-width="1"/>
<path d="M690,505 C688,515 688,530 692,540 C694,545 698,548 703,549 C696,543 692,533 692,522 C692,513 693,507 697,500 Z" fill="#222"/>
<ellipse cx="717.3" cy="525" rx="20" ry="23.2" fill="url(#stip)" stroke="#111" stroke-width="2.4"/>
<circle cx="717.3" cy="524.5" r="5.5" fill="#fff" stroke="#111" stroke-width="1.6"/>
</g>
<!-- part 18 bulb screw -->
<path d="M714.8,455 L726.4,461.1" stroke="#111" stroke-width="3.6" stroke-linecap="round"/>
<path d="M716,455.7 L725.5,460.6" stroke="#fff" stroke-width="1.2" stroke-dasharray="1 1"/>
<circle cx="731.5" cy="464.5" r="7" fill="#fff" stroke="#111" stroke-width="1.5"/>
<path d="M728,464 L734,461.5 M729,467 L735,464.5" stroke="#333" stroke-width="0.8"/>
<!-- part 19 cable -->
<path d="M736,508 C738,500 740,492 742.7,485 C744,480 746,476 749,473.5" stroke="#111" stroke-width="4.8" fill="none" stroke-linecap="round"/>
<path d="M736,508 C738,500 740,492 742.7,485 C744,480 746,476 749,473.5" stroke="#fff" stroke-width="2.4" fill="none" stroke-linecap="round"/>
<path class="p" d="M746,476 C748,472 751,471 755,471 C759,471 763,472 767,476 L769,490 C765,491 760,489.5 756,487.5 C752,485 748,482 746,479 Z" stroke-width="1.6"/>
<path d="M749,478 L755,481 M751,475 L757,478" stroke="#555" stroke-width="0.8"/>
<ellipse cx="764.5" cy="483.6" rx="5.8" ry="7.3" transform="rotate(20 764.5 483.6)" fill="#fff" stroke="#111" stroke-width="1.8"/>
<ellipse cx="764.7" cy="483.6" rx="3.2" ry="4.8" transform="rotate(20 764.7 483.6)" fill="#fff" stroke="#222" stroke-width="1.3"/>
<path d="M763,481 L764.5,487 M765.5,480.5 L767,486.5" stroke="#222" stroke-width="0.9"/>
<!-- lamp 19 -->
<g>
<ellipse cx="787" cy="500" rx="17" ry="27" fill="#fff" stroke="#111" stroke-width="1.8"/>
<ellipse cx="790" cy="501" rx="15" ry="25" fill="#fff" stroke="#111" stroke-width="1"/>
<path d="M776,487 L793,484 M774,493 L791,490 M773,499 L791,497 M773,505 L791,504 M774,511 L792,511 M776,517 L793,518 M779,523 L795,524" stroke="#333" stroke-width="1"/>
<path d="M772,484 C770,495 770,510 774,520 C776,524 779,527 783,528 C777,520 774,510 774,500 C774,492 775,487 778,481 Z" fill="#222"/>
<ellipse cx="803" cy="504" rx="20" ry="23.2" fill="#fff" stroke="#111" stroke-width="2.6"/>
<ellipse cx="803" cy="504" rx="8" ry="9.5" fill="url(#stip)" stroke="#111" stroke-width="1.1"/>
<path d="M812.2,506.8 L820.9,509.6 M809.7,511.8 L816.1,519.2 M805.5,514.6 L807.8,524.8 M800.5,514.6 L798.2,524.8 M796.3,511.8 L789.9,519.2 M793.8,506.8 L785.1,509.6 M793.8,501.2 L785.1,498.4 M796.3,496.2 L789.9,488.8 M800.5,493.4 L798.2,483.2 M805.5,493.4 L807.8,483.2 M809.7,496.2 L816.1,488.8 M812.2,501.2 L820.9,498.4" stroke="#222" stroke-width="1"/>
<path d="M815.8,501.3 L815.8,506.7 M815.2,509.1 L812.9,513.7 M811.4,515.4 L807.4,518.1 M805.3,518.8 L800.7,518.8 M798.6,518.1 L794.6,515.4 M793.1,513.7 L790.8,509.1 M790.2,506.7 L790.2,501.3 M790.8,498.9 L793.1,494.3 M794.6,492.6 L798.6,489.9 M800.7,489.2 L805.3,489.2 M807.4,489.9 L811.4,492.6 M812.9,494.3 L815.2,498.9" stroke="#333" stroke-width="1"/>
</g>
<!-- part 15 C ring -->
<path d="M750.8,565.7 A20,23.5 0 1 1 773.1,580.8" fill="none" stroke="#111" stroke-width="6"/>
<path d="M751.3,565.2 A20,23.5 0 1 1 772.8,580.2" fill="none" stroke="#fff" stroke-width="3.2"/>
<path d="M772,580 C779,577 785,571 787.5,563 L790.5,564 C789,573 783,580 774,583.5 Z" fill="#111"/>
<path d="M744,565 L751,563.5 L750,570 Z" fill="none" stroke="#111" stroke-width="1.2"/>
<path d="M749,537 L752.5,542" stroke="#111" stroke-width="1.3"/>
<path d="M775,545 L779,554 L776,556" stroke="#111" stroke-width="1" fill="none"/>
<!-- part 16 bulb screw -->
<path d="M694.5,577.7 L708,585.5" stroke="#111" stroke-width="3.6" stroke-linecap="round"/>
<path d="M695.5,578.3 L707,584.8" stroke="#fff" stroke-width="1.2" stroke-dasharray="1 1"/>
<circle cx="713.6" cy="589.5" r="7.2" fill="#fff" stroke="#111" stroke-width="1.5"/>
<path d="M710,589 L716,586.5 M711,592 L717,589.5" stroke="#333" stroke-width="0.8"/>
<!-- part 17 lens ring -->
<path d="M825.5,538 L831,541 M826,512 L830,515" stroke="#111" stroke-width="1.6"/>
<ellipse cx="848" cy="533.5" rx="22" ry="24.5" fill="#fff" stroke="#111" stroke-width="2.8"/>
<ellipse cx="850" cy="532" rx="17.5" ry="20" fill="none" stroke="#111" stroke-width="1.2"/>
<path d="M851,553 C859,551 865,544 868,535 L871,535 C870,546 865,555 855,558.5 Z" fill="#111"/><path d="M852,551 C858,549 862,545 864,540" stroke="#111" stroke-width="2" fill="none"/>
<path d="M857,518 L861,530 L855,532" stroke="#111" stroke-width="1.1" fill="none"/>
<!-- part 20 small lamp -->
<path class="p" d="M876.5,521.3 L887.5,513.7 L915,509.6 C920,510 923,512 924.6,513.7 L928.8,520 L924.6,525.4 L901.3,531.6 L891.6,532.3 C887,531 884.5,529 883.4,526.8 Z" stroke-width="1.8"/>
<path d="M883.4,526.8 C882,523 884,520 888,519 L924,515" stroke="#111" stroke-width="1.1" fill="none"/>
<path class="p" d="M889,514.5 C890,512 893,511.5 896,511 L918,510 C921,511 923,513 923,516 L891,519 Z" stroke-width="1.1"/>
<path d="M886,527 L887,530 M891,528 L892,531 M896,528 L897,531 M901,527 L902,530 M906,526 L907,529 M911,525 L912,528 M916,524 L917,527" stroke="#333" stroke-width="0.8"/>
<path class="p" d="M898.5,506 L898.5,513 C899,514.5 904.5,514.5 905.4,513 L905.4,506 Z" stroke-width="1.3"/>
<ellipse cx="902" cy="506" rx="3.5" ry="1.6" fill="#fff" stroke="#111" stroke-width="1.2"/>
<!-- connector near 20 -->
<path class="p" d="M915.5,494 C915,492 917,491.5 919,492 L925,494 L924,501 L918,499.5 C916,498.5 915.5,496 915.5,494 Z" stroke-width="1.3"/>
<path class="p" d="M924,490 C926,487 929,486.5 932,487.5 C936,489 938.5,493 938.4,498 C938.5,503 936,507 932,508.5 C929,509.5 926,508.5 924.5,506 C923,502 923,494 924,490 Z" stroke-width="1.4"/>
<circle cx="929.5" cy="497.9" r="4.5" fill="#fff" stroke="#111" stroke-width="1.3"/>
<circle cx="930" cy="489.5" r="0.9" fill="#111"/>
<circle cx="930" cy="506" r="0.9" fill="#111"/>
<!-- arrow down-right -->
<path class="tn" d="M937.7,524 L943.9,525.4 L946.7,517.1 L976.9,568 L981,566.7 L980.4,580.4 L967.3,573.5 L970,571.5 Z" fill="#fff"/>
<!-- arrow up -->
<path class="tn" d="M897.5,347.3 L908.5,364 L905,364 L905.5,450.5 L898,441 L890.5,453 L891.2,365 L887.5,365.2 Z" fill="#fff"/>
<!-- part 21 wire -->
<path d="M937,608 C938,595 943,582 954,572" stroke="#111" stroke-width="4.6" fill="none"/>
<path d="M937,608 C938,595 943,582 954,572" stroke="#fff" stroke-width="2.4" fill="none"/>
<!-- part 21 cylinder -->
<path class="p" d="M938,607.5 L970,606 L969,655 L944,646 Z" stroke-width="1.8"/>
<path d="M945,641 L968,650 M946,637 L968,645" stroke="#333" stroke-width="1.6" stroke-dasharray="1.2 1"/>
<path d="M950,612 L950,640 M955,611 L955,642 M960,611 L960,644" stroke="#666" stroke-width="0.7"/>
<ellipse cx="937" cy="626" rx="6" ry="18" transform="rotate(-6 937 626)" fill="#fff" stroke="#111" stroke-width="2.4"/>
<path d="M934,614 C933,624 934,636 937,642" stroke="#333" stroke-width="1.4" fill="none"/>
<!-- flange plate -->
<path class="p" d="M975,605 L1005,595 C1012,593 1018,597 1020,605 L1022.5,620 L1015,680 C1010,690 1000,697 992.5,697.5 C987,697 984,696 982.5,695 L962.5,667.5 C961,660 963,652 966,647.5 L972,612 Z" stroke-width="2"/>
<path d="M977.5,605 L972.5,630 L968,650 L966.5,665" stroke="#111" stroke-width="1.2" fill="none"/><path d="M966,679 C972,680.5 980,677.5 987,671" stroke="#111" stroke-width="1.1" fill="none"/><path d="M974,610 L970,632 L966,652" stroke="#444" stroke-width="1.6" stroke-dasharray="1 1.2" fill="none"/>
<circle cx="1005" cy="606" r="3.8" fill="#fff" stroke="#111" stroke-width="1.3"/>
<path d="M1003,605 L1007,607" stroke="#111" stroke-width="0.9"/>
<circle cx="980" cy="616" r="3.3" fill="#fff" stroke="#111" stroke-width="1.2"/>
<circle cx="971" cy="670" r="3.3" fill="#fff" stroke="#111" stroke-width="1.2"/>
<circle cx="993.75" cy="688.75" r="3.8" fill="#fff" stroke="#111" stroke-width="1.3"/>
<path d="M992,690 L995.5,687.5" stroke="#111" stroke-width="0.9"/>
<!-- lens ring -->
<ellipse cx="1003" cy="648" rx="28" ry="29.6" fill="#fff" stroke="#111" stroke-width="2.8"/>
<ellipse cx="1004" cy="648" rx="25" ry="27" fill="none" stroke="#111" stroke-width="1"/>
<path d="M987,624 C991,620.5 995,619.5 1000,619.5 C1016,620.5 1027,633 1027,648 C1027,663 1016,675 1002,676 C997,676 993.5,673.5 990.5,669.5 C986,660 984.5,650 985,640 C985.3,634 985.8,629 987,624 Z" fill="#fff" stroke="#111" stroke-width="1.6"/>
<path d="M987,624 L993,620.5" stroke="#111" stroke-width="3"/>
<path d="M980,633 L984,634 M979,638 L983.5,638.5 M978.5,643 L983,643 M978.5,648 L983,648 M979,653 L983.5,653 M979.5,658 L984,657.5 M980.5,663 L985,662 M982,668 L986,666" stroke="#333" stroke-width="0.8"/>
<path d="M1010,630 L1016,628 M1011,634 L1018,632 M1010,654 L1015,654 M1011,660 L1016,660" stroke="#555" stroke-width="0.8"/>
<path d="M1029,640 C1031,650 1029,662 1022,670" stroke="#111" stroke-width="2" fill="none"/>
<!-- part 22 bolt -->
<path d="M1028,715.5 L1043,725.5" stroke="#111" stroke-width="4" stroke-linecap="round"/>
<path d="M1029,715.8 L1042,724.5" stroke="#fff" stroke-width="1.6" stroke-dasharray="1.2 0.8"/>
<ellipse cx="1045.5" cy="728.5" rx="3.5" ry="4.5" transform="rotate(-30 1045.5 728.5)" fill="#fff" stroke="#111" stroke-width="1.5"/>

<path d="M224.5,161.0 L224.5,172.5" stroke="#111" stroke-width="1.95" fill="none"/>
<path d="M225.1,161.3 L223.3,161.3 Q221.8,163.2 221.2,164.0" stroke="#111" stroke-width="1.4" fill="none"/>
<text class="lb" transform="translate(290.4,375.0) scale(1.329,1)" font-size="15.7">2</text>
<text class="lb" transform="translate(267.1,396.6) scale(1.124,1)" font-size="15.9">3</text>
<text class="lb" transform="translate(202.0,447.0) scale(1.068,1)" font-size="16.3">4</text>
<text class="lb" transform="translate(174.1,470.6) scale(1.100,1)" font-size="17.0">5</text>
<text class="lb" transform="translate(138.4,493.0) scale(1.167,1)" font-size="17.1">6</text>
<text class="lb" transform="translate(346.4,396.8) scale(1.184,1)" font-size="16.1">7</text>
<text class="lb" transform="translate(325.7,404.0) scale(1.098,1)" font-size="16.4">8</text>
<text class="lb" transform="translate(213.0,474.0) scale(1.170,1)" font-size="16.7">9</text>
<path d="M172.9,487.0 L172.9,498.5" stroke="#111" stroke-width="1.95" fill="none"/>
<path d="M173.5,487.3 L171.7,487.3 Q170.2,489.2 169.6,490.0" stroke="#111" stroke-width="1.4" fill="none"/>
<text class="lb" transform="translate(176.3,498.5) scale(1.127,1)" font-size="16.4">0</text>
<path d="M357.8,611.5 L357.8,622.0" stroke="#111" stroke-width="1.95" fill="none"/>
<path d="M358.4,611.8 L356.6,611.8 Q355.1,613.7 354.5,614.5" stroke="#111" stroke-width="1.4" fill="none"/>
<path d="M366.3,611.5 L366.3,622.0" stroke="#111" stroke-width="1.95" fill="none"/>
<path d="M366.9,611.8 L365.1,611.8 Q363.6,613.7 363.0,614.5" stroke="#111" stroke-width="1.4" fill="none"/>
<path d="M393.5,618.7 L393.5,630.0" stroke="#111" stroke-width="1.95" fill="none"/>
<path d="M394.1,619.0 L392.3,619.0 Q390.8,620.9 390.2,621.7" stroke="#111" stroke-width="1.4" fill="none"/>
<text class="lb" transform="translate(396.1,630.0) scale(1.198,1)" font-size="16.1">2</text>
<path d="M523.9,532.2 L523.9,543.4" stroke="#111" stroke-width="1.95" fill="none"/>
<path d="M524.5,532.5 L522.7,532.5 Q521.2,534.4 520.6,535.2" stroke="#111" stroke-width="1.4" fill="none"/>
<text class="lb" transform="translate(526.3,543.4) scale(1.182,1)" font-size="16.0">3</text>
<path d="M537.5,558.3 L537.5,570.0" stroke="#111" stroke-width="1.95" fill="none"/>
<path d="M538.1,558.6 L536.3,558.6 Q534.8,560.5 534.2,561.3" stroke="#111" stroke-width="1.4" fill="none"/>
<text class="lb" transform="translate(540.0,570.0) scale(1.041,1)" font-size="16.7">4</text>
<path d="M559.3,582.5 L559.3,593.8" stroke="#111" stroke-width="1.95" fill="none"/>
<path d="M559.9,582.8 L558.1,582.8 Q556.6,584.7 556.0,585.5" stroke="#111" stroke-width="1.4" fill="none"/>
<text class="lb" transform="translate(561.8,593.8) scale(1.177,1)" font-size="16.1">5</text>
<path d="M584.9,606.2 L584.9,617.7" stroke="#111" stroke-width="1.95" fill="none"/>
<path d="M585.5,606.5 L583.7,606.5 Q582.2,608.5 581.6,609.2" stroke="#111" stroke-width="1.4" fill="none"/>
<text class="lb" transform="translate(587.0,617.7) scale(1.182,1)" font-size="16.4">6</text>
<path d="M614.9,629.4 L614.9,640.3" stroke="#111" stroke-width="1.95" fill="none"/>
<path d="M615.5,629.7 L613.7,629.7 Q612.2,631.6 611.6,632.4" stroke="#111" stroke-width="1.4" fill="none"/>
<text class="lb" transform="translate(617.2,640.3) scale(1.242,1)" font-size="15.6">7</text>
<path d="M851.1,421.0 L851.1,432.5" stroke="#111" stroke-width="1.95" fill="none"/>
<path d="M851.7,421.3 L849.9,421.3 Q848.4,423.2 847.8,424.0" stroke="#111" stroke-width="1.4" fill="none"/>
<text class="lb" transform="translate(854.5,432.5) scale(1.151,1)" font-size="16.4">8</text>
<path d="M870.3,438.5 L870.3,449.5" stroke="#111" stroke-width="1.95" fill="none"/>
<path d="M870.9,438.8 L869.1,438.8 Q867.6,440.7 867.0,441.5" stroke="#111" stroke-width="1.4" fill="none"/>
<text class="lb" transform="translate(872.3,449.5) scale(1.230,1)" font-size="15.7">9</text>
<text class="lb" transform="translate(895.8,468.0) scale(1.216,1)" font-size="15.7">2</text>
<text class="lb" transform="translate(906.2,468.0) scale(1.164,1)" font-size="15.7">0</text>
<text class="lb" transform="translate(837.8,662.5) scale(1.203,1)" font-size="16.1">2</text>
<path d="M853.7,651.2 L853.7,662.5" stroke="#111" stroke-width="1.95" fill="none"/>
<path d="M854.3,651.5 L852.5,651.5 Q851.0,653.5 850.4,654.2" stroke="#111" stroke-width="1.4" fill="none"/>
<text class="lb" transform="translate(931.6,742.5) scale(1.106,1)" font-size="16.1">2</text>
<text class="lb" transform="translate(941.1,742.5) scale(1.106,1)" font-size="16.1">2</text>
<text class="lb" transform="translate(949.4,77.2) scale(1.148,1)" font-size="15.3">2</text>
<text class="lb" transform="translate(959.0,77.2) scale(1.124,1)" font-size="15.3">3</text>
<text class="lb" transform="translate(961.9,95.2) scale(1.102,1)" font-size="15.4">2</text>
<text class="lb" transform="translate(971.5,95.2) scale(0.992,1)" font-size="15.4">4</text>
<text class="lb" transform="translate(997.3,144.0) scale(1.178,1)" font-size="15.3">2</text>
<text class="lb" transform="translate(1007.1,144.0) scale(1.152,1)" font-size="15.3">5</text>
<text class="lb" transform="translate(1015.2,168.5) scale(1.188,1)" font-size="15.4">2</text>
<text class="lb" transform="translate(1024.9,168.5) scale(1.188,1)" font-size="15.4">6</text>
<text class="lb" transform="translate(1051.0,221.1) scale(1.277,1)" font-size="15.1">2</text>
<text class="lb" transform="translate(1061.3,221.1) scale(1.277,1)" font-size="15.1">7</text>
<text class="lb" transform="translate(1070.9,250.6) scale(1.156,1)" font-size="15.6">2</text>
<text class="lb" transform="translate(1080.7,250.6) scale(1.131,1)" font-size="15.6">8</text>
<text class="lb" transform="translate(1070.9,267.8) scale(1.212,1)" font-size="14.9">2</text>
<text class="lb" transform="translate(1080.5,267.8) scale(1.212,1)" font-size="14.9">9</text>
<path class="ld" d="M136,152 L218,171"/>
<path class="ld" d="M201,331 L291,365"/>
<path class="ld" d="M171,347 L266,385"/>
<path class="ld" d="M117.5,401 L200,433.75"/>
<path class="ld" d="M86,424 L171,459"/>
<path class="ld" d="M55,449 L139,481"/>
<path class="ld" d="M362,389 L388,395 L390,443"/>
<path class="ld" d="M331,409 L329.2,425.6"/>
<path class="ld" d="M231,465 L315,495"/>
<path class="ld" d="M194,490.5 L289.3,527"/>
<path class="ld" d="M376,610 L456.7,523.5"/>
<path class="ld" d="M404,616 L447,567"/>
<path class="ld" d="M530,544 L644,522"/>
<path class="ld" d="M554.5,568.4 L690,541"/>
<path class="ld" d="M579,592.7 L750,558.6"/>
<path class="ld" d="M601,614 L707,593"/>
<path class="ld" d="M629.5,637 L807.3,602.3 L836.4,556.8"/>
<path class="ld" d="M843.5,432 L725,453.6"/>
<path class="ld" d="M868.5,451 L763,472"/>
<path class="ld" d="M891.5,469 L814.5,483.6"/>
<path class="ld" d="M863.75,660 L937.5,645"/>
<path class="ld" d="M952.5,741.25 L1035,726.25"/>
<path class="ld" d="M946,78 L895,85 L864.5,112.6"/>
<path class="ld" d="M958.7,94.5 L911,103"/>
<path class="ld" d="M993,143 L937.5,150"/>
<path class="ld" d="M1010,168.5 L945,176"/>
<path class="ld" d="M1048,220 L987.5,230"/>
<path class="ld" d="M1068,250.6 L1025,259"/>
<path class="ld" d="M1081,272 L1045.6,298 L985,309.7"/>
</svg>
</body></html>
